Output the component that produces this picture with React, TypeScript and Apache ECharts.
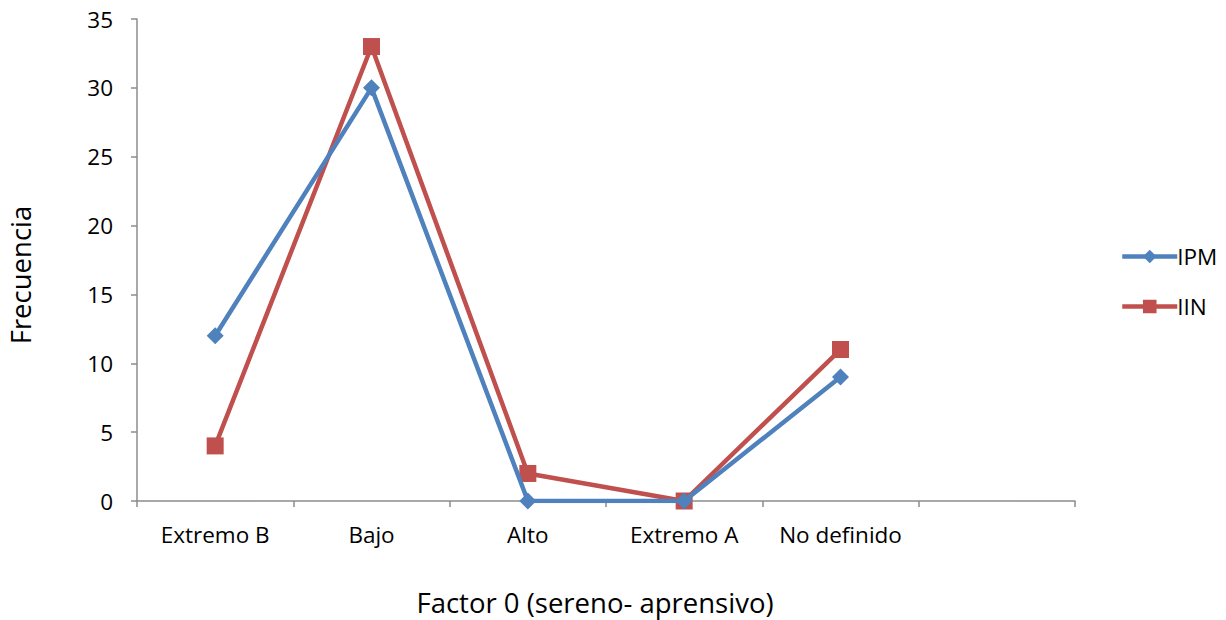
import React, { useEffect, useRef } from "react";
import * as echarts from "echarts";

const categories = ["Extremo B", "Bajo", "Alto", "Extremo A", "No definido", ""];
const ipmValues = [12, 30, 0, 0, 9, null];
const iinValues = [4, 33, 2, 0, 11, null];
const seriesNames = ["IPM", "IIN"];
const yTicks = { min: 0, max: 35, interval: 5 };

const FONT = "'Open Sans', sans-serif";

export default function App() {
  const ref = useRef<HTMLDivElement>(null);
  useEffect(() => {
    if (!ref.current) return;
    const chart = echarts.init(ref.current, null, { renderer: "svg" });
    chart.setOption({
      animation: false,
      backgroundColor: "#ffffff",
      textStyle: { fontFamily: FONT },
      grid: { left: 137, right: 151, top: 19, bottom: 119, containLabel: false },
      legend: {
        orient: "vertical",
        left: 1115,
        top: 240,
        itemWidth: 55,
        itemHeight: 17,
        itemGap: 27,
        lineStyle: { width: 4.5 },
        textStyle: { fontSize: 22.5, color: "#000", fontFamily: FONT, padding: [0, 0, 0, -5] },
        data: seriesNames,
      },
      xAxis: {
        type: "category",
        data: categories,
        boundaryGap: true,
        axisLine: { lineStyle: { color: "#8c8c8c", width: 1.5 } },
        axisTick: { show: true, length: 6, lineStyle: { color: "#8c8c8c", width: 1.5 } },
        axisLabel: { color: "#000", fontSize: 22.5, margin: 22, fontFamily: FONT, interval: 0 },
        splitLine: { show: false },
      },
      yAxis: {
        type: "value",
        min: yTicks.min,
        max: yTicks.max,
        interval: yTicks.interval,
        axisLine: { show: true, lineStyle: { color: "#8c8c8c", width: 1.5 } },
        axisTick: { show: true, length: 6, lineStyle: { color: "#8c8c8c", width: 1.5 } },
        axisLabel: { color: "#000", fontSize: 22.5, margin: 24, fontFamily: FONT },
        splitLine: { show: false },
      },
      graphic: [
        {
          type: "text",
          x: 20,
          y: 275,
          rotation: Math.PI / 2,
          style: {
            text: "Frecuencia",
            fontSize: 27.5,
            fontFamily: FONT,
            fill: "#000",
            align: "center",
            verticalAlign: "middle",
          },
        },
        {
          type: "text",
          x: 595,
          y: 602,
          style: {
            text: "Factor 0 (sereno- aprensivo)",
            fontSize: 27.5,
            lineHeight: 28,
            fontFamily: FONT,
            fill: "#000",
            align: "center",
            verticalAlign: "middle",
          },
        },
      ],
      series: [
        {
          name: seriesNames[0],
          type: "line",
          data: ipmValues,
          symbol: "diamond",
          symbolSize: 17,
          lineStyle: { color: "#4F81BD", width: 4.5 },
          itemStyle: { color: "#4F81BD" },
          z: 3,
        },
        {
          name: seriesNames[1],
          type: "line",
          data: iinValues,
          symbol: "rect",
          symbolSize: 17,
          lineStyle: { color: "#C0504D", width: 4.5 },
          itemStyle: { color: "#C0504D" },
          z: 2,
        },
      ],
    });
    return () => chart.dispose();
  }, []);
  return (
    <div
      ref={ref}
      style={{ position: "fixed", left: 0, top: 0, width: 1226, height: 620, background: "#fff" }}
    />
  );
}
